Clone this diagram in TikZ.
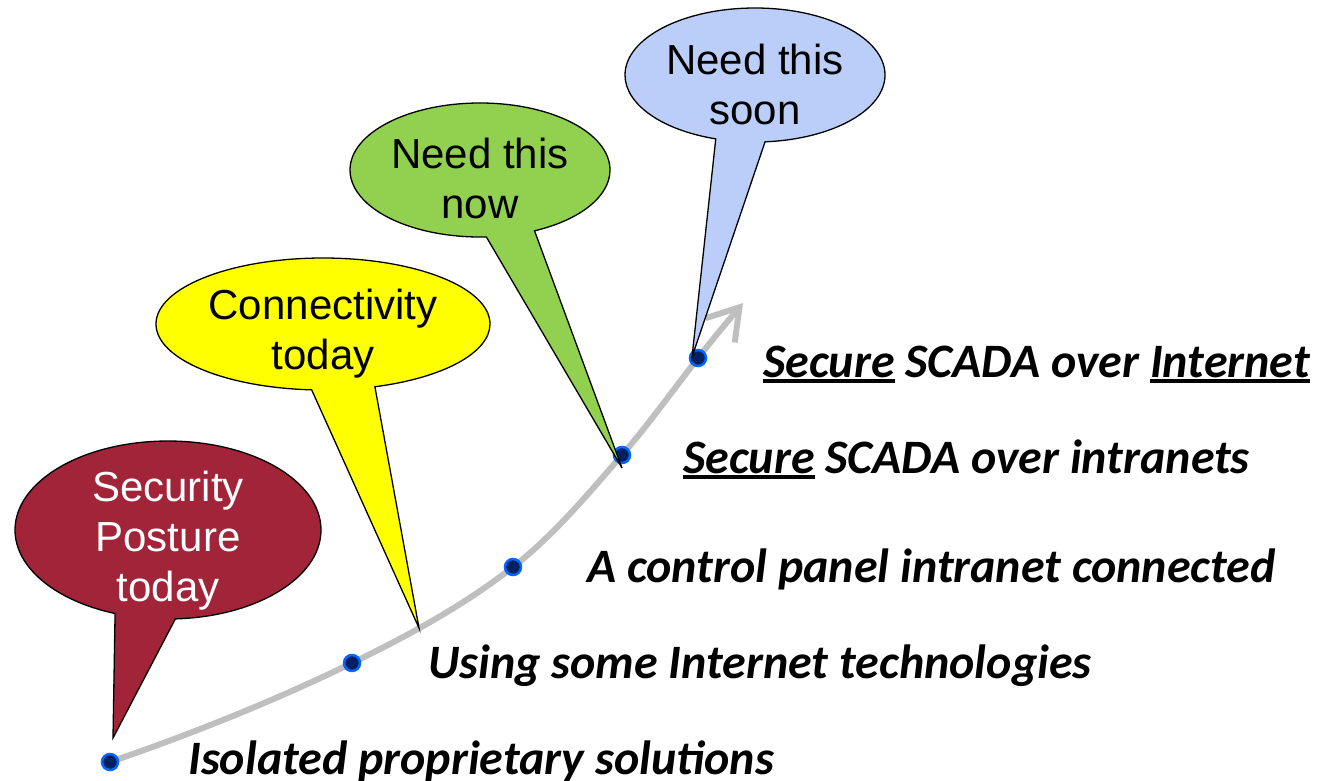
\documentclass[tikz,border=0pt]{standalone}
\usepackage{fontspec}
\setmainfont{Liberation Sans}
\newfontfamily\lblfont{Carlito}
\usetikzlibrary{shapes.callouts,arrows.meta}
\definecolor{postred}{RGB}{161,36,56}
\definecolor{connyellow}{RGB}{255,255,0}
\definecolor{nowgreen}{RGB}{146,208,80}
\definecolor{soonblue}{RGB}{187,206,250}
\definecolor{roadgray}{RGB}{191,191,191}
\definecolor{dotfill}{RGB}{0,32,96}
\definecolor{dotring}{RGB}{0,102,255}
\newcommand\ulbox[1]{\vtop{\hbox{#1}\kern2pt\hrule height 3.5pt}}
\tikzset{
  bubble/.style={ellipse callout, draw=black, line width=1.3pt, inner sep=0pt, callout pointer arc=22},
  ctext/.style={font=\fontsize{42}{50}\selectfont, align=center, inner sep=0pt},
  stage/.style={font=\lblfont\bfseries\itshape\fontsize{48}{56}\selectfont, anchor=base west, inner sep=0pt},
  road/.style={draw=roadgray, line width=6pt, -{Straight Barb[length=30pt,width=38pt,line width=6pt]}},
  dotnode/.style={circle, fill=dotfill, draw=dotring, line width=2.5pt, minimum size=16pt, inner sep=0pt}
}
\begin{document}
\begin{tikzpicture}[x=1pt,y=-1pt]
\useasboundingbox (0,0) rectangle (1330,780);
% road points
\coordinate (p1) at (110,762);
\coordinate (p2) at (352,663);
\coordinate (p3) at (513,567);
\coordinate (p4) at (622,455);
\coordinate (p5) at (698,358);
\coordinate (pend) at (743,303);
\draw[road] (p1) .. controls (192.4,733.6) and (273.6,701.2) .. (p2)
  .. controls (408.2,635.6) and (463.7,605.5) .. (p3)
  .. controls (554.1,534.9) and (587.8,494.3) .. (p4)
  .. controls (649,424) and (672.7,390.4) .. (p5)
  .. controls (712.6,339.3) and (727.8,321.2) .. (pend);
% dots
\node[dotnode] (d1) at (p1) {};
\node[dotnode] (d2) at (p2) {};
\node[dotnode] (d3) at (p3) {};
\node[dotnode] (d4) at (p4) {};
\node[dotnode] (d5) at (p5) {};
% callout tips
\coordinate (t1) at (113,738);
\coordinate (t2) at (419,628);
\coordinate (t3) at (622,468);
\coordinate (t4) at (692,357);
% callouts
\node[bubble, fill=postred, minimum width=306pt, minimum height=178pt, callout absolute pointer={(t1)}, callout pointer arc=23] (c1) at (168,530) {};
\node[ctext, text=white] (c1t) at (168,541) {Security\\Posture\\today};
\node[bubble, fill=connyellow, minimum width=334pt, minimum height=132pt, callout absolute pointer={(t2)}] (c2) at (323,324) {};
\node[ctext] (c2t) at (323,334) {Connectivity\\today};
\node[bubble, fill=nowgreen, minimum width=260pt, minimum height=134pt, callout absolute pointer={(t3)}] (c3) at (480,170) {};
\node[ctext] (c3t) at (480,178) {Need this\\now};
\node[bubble, fill=soonblue, minimum width=260pt, minimum height=134pt, callout absolute pointer={(t4)}] (c4) at (755,75) {};
\node[ctext] (c4t) at (755,84) {Need this\\soon};
% stage labels
\node[stage] (s5) at (763,377) {\ulbox{Secure} SCADA over \ulbox{Internet}};
\node[stage] (s4) at (683,473) {\ulbox{Secure} SCADA over intranets};
\node[stage] (s3) at (587,582) {A control panel intranet connected};
\node[stage] (s2) at (428,678) {Using some Internet technologies};
\node[stage] (s1) at (188,774) {Isolated proprietary solutions};
\end{tikzpicture}
\end{document}
